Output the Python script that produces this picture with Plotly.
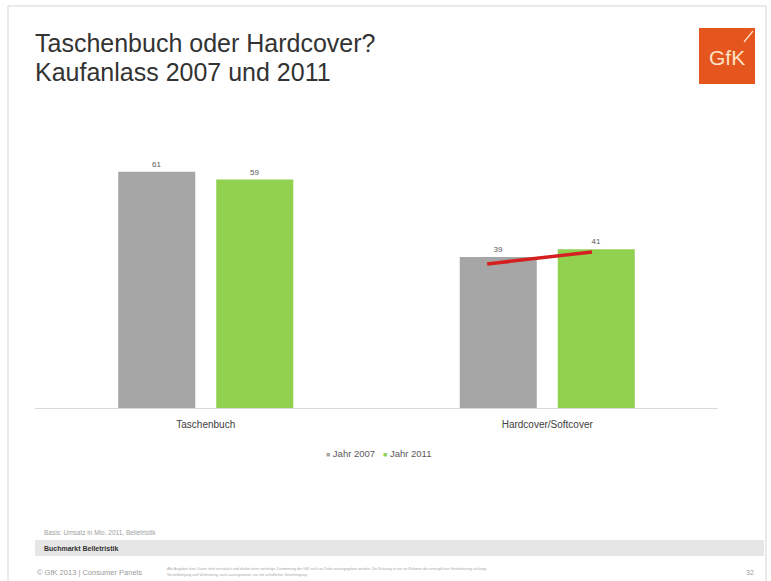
import plotly.graph_objects as go

# --- data -------------------------------------------------------------
categories = ["Taschenbuch", "Hardcover/Softcover"]
series_names = ["Jahr 2007", "Jahr 2011"]
values_2007 = [61, 39]
values_2011 = [59, 41]
series_colors = ["#a6a6a6", "#92d050"]

# red trend stroke across the Hardcover/Softcover pair
trend_x = [0.824, 1.131]
trend_y = [37.2, 40.3]

title_lines = ["Taschenbuch oder Hardcover?", "Kaufanlass 2007 und 2011"]
basis_text = "Basis: Umsatz in Mio. 2011, Belletristik"
band_text = "Buchmarkt Belletristik"
footer_text = "© GfK 2013 | Consumer Panels"
disclaimer_lines = [
    "Alle Angaben bzw. Daten sind vertraulich und dürfen ohne vorherige Zustimmung der GfK nicht an Dritte weitergegeben werden. Die Nutzung ist nur im Rahmen der vertraglichen Vereinbarung zulässig.",
    "Vervielfältigung und Verbreitung, auch auszugsweise, nur mit schriftlicher Genehmigung.",
]
page_number = "32"

# --- page geometry ----------------------------------------------------
W, H = 771, 581
L, R, T, B = 35, 718, 137, 408  # plot area in pixels
FONT = "Liberation Sans, Arial, sans-serif"


def px(x):
    return (x - L) / (R - L)


def py(y):
    return (B - y) / (B - T)


fig = go.Figure()

for name, vals, col in zip(series_names, [values_2007, values_2011], series_colors):
    fig.add_trace(go.Bar(
        x=list(range(len(categories))),
        y=vals,
        name=name,
        marker=dict(color=col, line=dict(width=0)),
        text=[str(v) for v in vals],
        textposition="outside",
        textfont=dict(family=FONT, size=8, color="#595959"),
        cliponaxis=False,
        showlegend=False,
    ))

fig.add_trace(go.Scatter(
    x=trend_x, y=trend_y, mode="lines",
    line=dict(color="#d42020", width=3.5),
    showlegend=False, hoverinfo="skip",
))

shapes = [
    # slide frame
    dict(type="rect", xref="paper", yref="paper",
         x0=px(8), x1=px(766), y0=py(600), y1=py(6),
         line=dict(color="#d4d4d4", width=1), fillcolor="rgba(0,0,0,0)", layer="below"),
    # logo box
    dict(type="rect", xref="paper", yref="paper",
         x0=px(699), x1=px(755), y0=py(84), y1=py(28),
         line=dict(width=0), fillcolor="#e4561d"),
    dict(type="line", xref="paper", yref="paper",
         x0=px(744), x1=px(753), y0=py(42), y1=py(31),
         line=dict(color="#fbe0c8", width=1.2)),
    # footer band
    dict(type="rect", xref="paper", yref="paper",
         x0=px(35), x1=px(764), y0=py(556), y1=py(540),
         line=dict(width=0), fillcolor="#e6e6e6", layer="below"),
]

annotations = []


def note(text, x, y, size, color, xanchor="left", yanchor="middle", bold=False):
    annotations.append(dict(
        text=f"<b>{text}</b>" if bold else text,
        xref="paper", yref="paper", x=px(x), y=py(y),
        xanchor=xanchor, yanchor=yanchor, showarrow=False,
        font=dict(family=FONT, size=size, color=color),
    ))


note(title_lines[0], 33, 43, 25, "#333333")
note(title_lines[1], 33, 72, 25, "#333333")
note("GfK", 727, 57, 21, "#fde2c6", xanchor="center")

# legend
legend_text = "   ".join(
    f"<span style='color:{c};font-size:7px'>■</span> {n}" for n, c in zip(series_names, series_colors)
)
note(legend_text, 378, 453, 9.5, "#595959", xanchor="center")

note(basis_text, 42, 532, 6.5, "#a0a0a0")
note(band_text, 42, 548, 7, "#333333", bold=True)
note(footer_text, 35, 572, 7.5, "#9a9a9a")
note(disclaimer_lines[0], 165, 569, 3.6, "#a8a8a8")
note(disclaimer_lines[1], 165, 575, 3.6, "#a8a8a8")
note(page_number, 750, 572, 7, "#9a9a9a", xanchor="center")

fig.update_layout(
    width=W, height=H,
    margin=dict(l=L, r=W - R, t=T, b=H - B, pad=0),
    paper_bgcolor="white", plot_bgcolor="white",
    barmode="group", bargap=0.426, bargroupgap=0.214,
    shapes=shapes, annotations=annotations,
    font=dict(family=FONT),
    xaxis=dict(
        range=[-0.5, len(categories) - 0.5],
        tickmode="array", tickvals=list(range(len(categories))), ticktext=categories,
        tickfont=dict(family=FONT, size=10, color="#404040"),
        ticks="outside", ticklen=7, tickcolor="rgba(0,0,0,0)",
        showline=True, linecolor="#d9d9d9", linewidth=1,
        showgrid=False, zeroline=False, fixedrange=True,
    ),
    yaxis=dict(
        range=[0, 70], visible=False, showgrid=False, zeroline=False, fixedrange=True,
    ),
)

fig.write_html("out.html", config=dict(displayModeBar=False))
